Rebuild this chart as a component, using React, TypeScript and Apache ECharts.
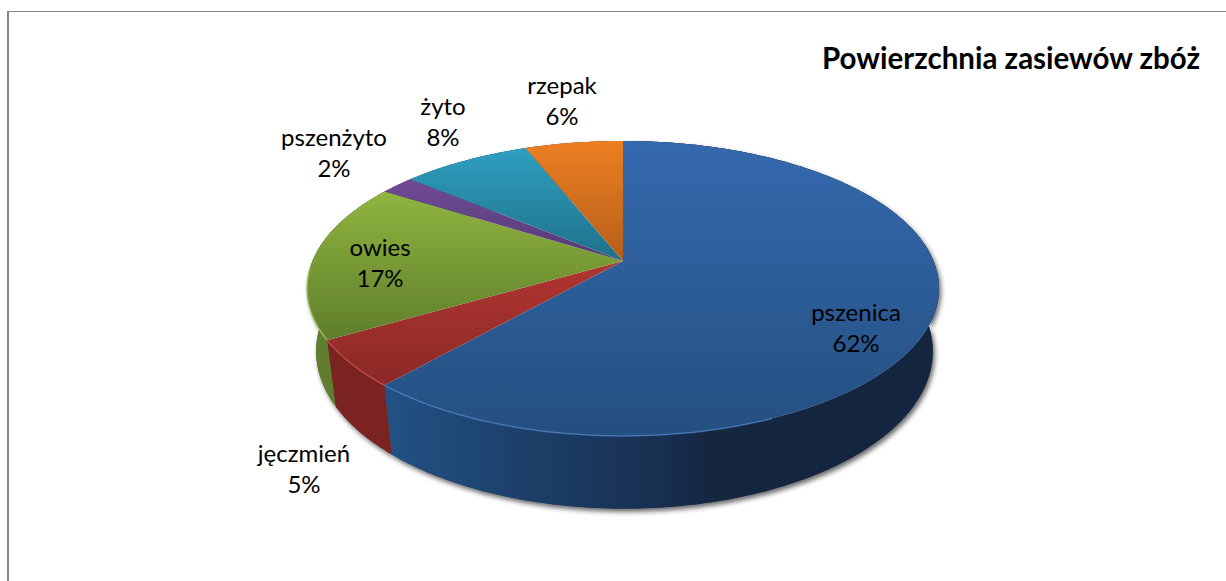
import React, { useEffect, useRef } from "react";
import * as echarts from "echarts";

const categories = ["pszenica", "jęczmień", "owies", "pszenżyto", "żyto", "rzepak"];
const shares = [61.5, 5.1, 17.4, 2.1, 7.9, 6.0];
const chartTitle = "Powierzchnia zasiewów zbóż";

const labelCentres = [
  [856, 326.5],
  [304, 468],
  [380, 261.5],
  [334, 151.5],
  [443, 120.5],
  [562, 100],
];
const topColours = [
  ["#3569ae", "#245080"],
  ["#b23530", "#8a2926"],
  ["#90b540", "#5f7d2b"],
  ["#704b94", "#553a75"],
  ["#2f9fc1", "#1e7088"],
  ["#ed7f22", "#b45e1a"],
];
const rimColours = ["#4a80c4", "#c8504a", "#a5c860", "#8a66b0", "#50b5d5", "#f59a50"];
const wallColours = [
  [[0, "#225184"], [0.25, "#1c3f69"], [0.5, "#182f50"], [0.6, "#15263f"], [1, "#13253f"]],
  [[0, "#7a2321"], [1, "#822421"]],
  [[0, "#5f7d2c"], [1, "#5b7829"]],
  [[0, "#4d3368"], [1, "#4d3368"]],
  [[0, "#1c6a80"], [1, "#1c6a80"]],
  [[0, "#a85616"], [1, "#a85616"]],
];

const CX = 623;
const CY = 261;
const A = 310.5;
const B = 142.4;
const K = 0.186;
const BOTTOM_CX = 624.5;
const BOTTOM_CY = 322;
const BOTTOM_A = 303;
const BOTTOM_B = 152;

const total = shares.reduce((s, v) => s + v, 0);
const starts: number[] = [];
shares.reduce((acc, v, i) => {
  starts[i] = acc;
  return acc + v;
}, 0);
const toAngle = (share: number) => (share / total) * Math.PI * 2;

function project(theta: number, bottom: boolean) {
  const u = Math.sin(theta);
  const v = Math.cos(theta);
  const w = 1 + K * v;
  return bottom
    ? [BOTTOM_CX + (BOTTOM_A * u) / w, BOTTOM_CY - (BOTTOM_B * v) / w]
    : [CX + (A * u) / w, CY - (B * v) / w];
}

function arc(a0: number, a1: number, bottom: boolean) {
  const n = Math.max(2, Math.ceil(((a1 - a0) * 180) / Math.PI));
  const pts: number[][] = [];
  for (let i = 0; i <= n; i++) pts.push(project(a0 + ((a1 - a0) * i) / n, bottom));
  return pts;
}

const sliceRange = (i: number) => [toAngle(starts[i]), toAngle(starts[i] + shares[i])];

function wallPoints(i: number) {
  const [a0, a1] = sliceRange(i);
  return [...arc(a0, a1, false), ...arc(a0, a1, true).reverse()];
}

function renderShadow(params: any) {
  return {
    type: "polygon",
    silent: true,
    shape: { points: wallPoints(params.dataIndex) },
    style: {
      fill: "#555",
      shadowBlur: 5,
      shadowColor: "rgba(0,0,0,0.6)",
      shadowOffsetX: 2,
      shadowOffsetY: 3,
    },
  };
}

function renderWall(params: any) {
  const i = params.dataIndex;
  return {
    type: "polygon",
    silent: true,
    shape: { points: wallPoints(i) },
    style: {
      fill: new echarts.graphic.LinearGradient(
        390,
        0,
        930,
        0,
        wallColours[i].map(([offset, color]) => ({ offset: offset as number, color: color as string })),
        true
      ),
    },
  };
}

function renderTop(params: any) {
  const i = params.dataIndex;
  const [a0, a1] = sliceRange(i);
  const pts = [[CX, CY], ...arc(a0, a1, false)];
  const front = arc(a0, a1, false).filter((_, k, all) => {
    const t = a0 + ((a1 - a0) * k) / (all.length - 1);
    return Math.cos(t) < -0.05 && Math.sin(t) < 0.4;
  });
  const children: any[] = [
    {
      type: "polygon",
      silent: true,
      shape: { points: pts },
      style: {
        fill: new echarts.graphic.LinearGradient(0, 0, 0, 1, [
          { offset: 0, color: topColours[i][0] },
          { offset: 1, color: topColours[i][1] },
        ]),
      },
    },
  ];
  if (front.length > 1) {
    children.push({
      type: "polyline",
      silent: true,
      shape: { points: front },
      style: { stroke: rimColours[i], lineWidth: 1.5, fill: "none", opacity: 0.75 },
    });
  }
  return { type: "group", children };
}

function renderLabel(params: any) {
  const i = params.dataIndex;
  return {
    type: "text",
    silent: true,
    x: labelCentres[i][0],
    y: labelCentres[i][1],
    style: {
      text: `${categories[i]}\n${Math.round(shares[i])}%`,
      fill: "#000",
      font: "24px Lato",
      lineHeight: 31,
      align: "center",
      verticalAlign: "middle",
    },
  };
}

export default function App() {
  const ref = useRef<HTMLDivElement>(null);
  useEffect(() => {
    const chart = echarts.init(ref.current!, undefined, { renderer: "svg" });
    const base = { type: "custom", coordinateSystem: "none", data: shares, silent: true };
    chart.setOption({
      animation: false,
      backgroundColor: "#fff",
      graphic: [
        { type: "rect", silent: true, shape: { x: 7, y: 11, width: 2, height: 570 }, style: { fill: "#868686" } },
        { type: "rect", silent: true, shape: { x: 7, y: 11, width: 1219, height: 1 }, style: { fill: "#868686" } },
        {
          type: "text",
          silent: true,
          x: 1200,
          y: 57,
          style: {
            text: chartTitle,
            font: "bold 29.5px Lato",
            fill: "#000",
            align: "right",
            verticalAlign: "middle",
          },
        },
      ],
      series: [
        { ...base, name: "shadow", renderItem: renderShadow, z: 1 },
        { ...base, name: "walls", renderItem: renderWall, z: 2 },
        { ...base, name: "tops", renderItem: renderTop, z: 3 },
        { ...base, name: "labels", renderItem: renderLabel, z: 4 },
      ],
    });
    return () => chart.dispose();
  }, []);
  return <div ref={ref} style={{ position: "absolute", left: 0, top: 0, width: 1226, height: 581 }} />;
}
